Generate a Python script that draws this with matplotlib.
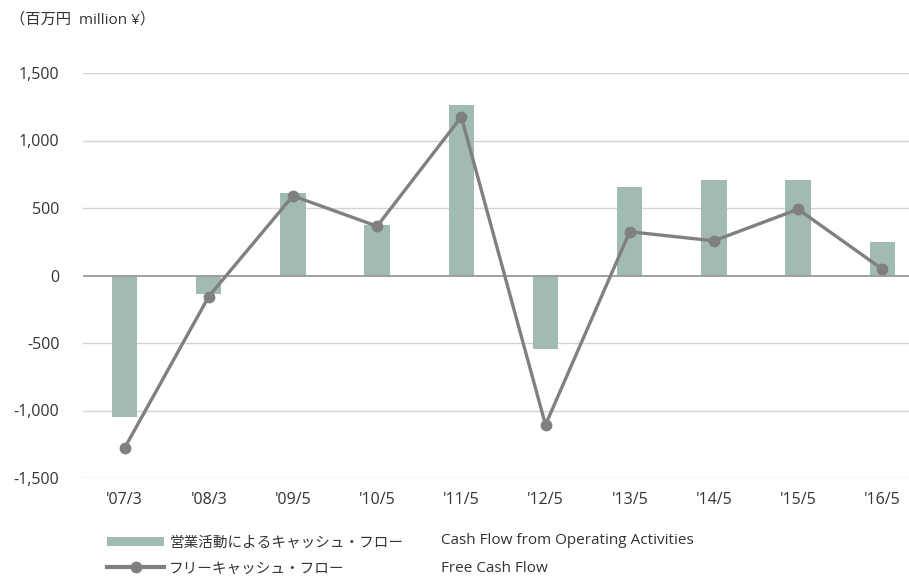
import matplotlib
matplotlib.use("Agg")
import matplotlib.pyplot as plt
from matplotlib.patches import Patch
from matplotlib.lines import Line2D

plt.rcParams['font.family'] = ['Open Sans', 'Noto Sans CJK JP', 'DejaVu Sans']

periods = ["'07/3", "'08/3", "'09/5", "'10/5", "'11/5", "'12/5", "'13/5", "'14/5", "'15/5", "'16/5"]
operating_cf = [-1050, -135, 610, 373, 1261, -546, 652, 704, 711, 250]
free_cf = [-1279, -156, 590, 365, 1175, -1106, 324, 257, 491, 47]
y_ticks = [-1500, -1000, -500, 0, 500, 1000, 1500]

bar_color = '#a1bab3'
line_color = '#808080'
text_color = '#333333'

fig = plt.figure(figsize=(9.09, 5.76), dpi=100)
ax = fig.add_axes([83 / 909, 98 / 576, 826 / 909, 405 / 576])

x = list(range(len(periods)))
ax.bar(x, operating_cf, width=0.3, color=bar_color, zorder=2)
ax.plot(x, free_cf, color=line_color, lw=2.4, marker='o', markersize=7.5, zorder=4)

ax.set_xlim(-0.493, 9.317)
ax.set_ylim(-1500, 1500)
ax.set_yticks(y_ticks)
ax.set_yticklabels(['{:,}'.format(v) for v in y_ticks])
ax.set_xticks(x)
ax.set_xticklabels(periods)
for v in y_ticks:
    if v == 0:
        ax.axhline(v, color='#999999', lw=1.3, zorder=3)
    else:
        ax.axhline(v, color='#d4d4d4', lw=1.0, zorder=1)

for s in ax.spines.values():
    s.set_visible(False)
ax.tick_params(axis='both', length=0, labelsize=11.5, colors=text_color)
ax.tick_params(axis='y', pad=17)
ax.tick_params(axis='x', pad=10)

fig.text(10 / 909, 1 - 20 / 576, '（百万円  million ¥）', fontsize=11, color=text_color,
         va='center', ha='left')

handles = [Patch(facecolor=bar_color, edgecolor='none'),
           Line2D([0], [0], color=line_color, lw=3, marker='o', markersize=7.5)]
labels = ['営業活動によるキャッシュ・フロー', 'フリーキャッシュ・フロー']
fig.legend(handles, labels, loc='upper left', bbox_to_anchor=(100 / 909, 1 - 528 / 576),
           frameon=False, fontsize=10.5, handlelength=3.9, handleheight=0.6,
           handletextpad=0.35, labelspacing=0.75, borderpad=0, labelcolor=text_color)

fig.text(441 / 909, 1 - 541 / 576, 'Cash Flow from Operating Activities', fontsize=11,
         color=text_color, va='center', ha='left')
fig.text(441 / 909, 1 - 568 / 576, 'Free Cash Flow', fontsize=11,
         color=text_color, va='center', ha='left')

fig.savefig('out.png', dpi=100)
